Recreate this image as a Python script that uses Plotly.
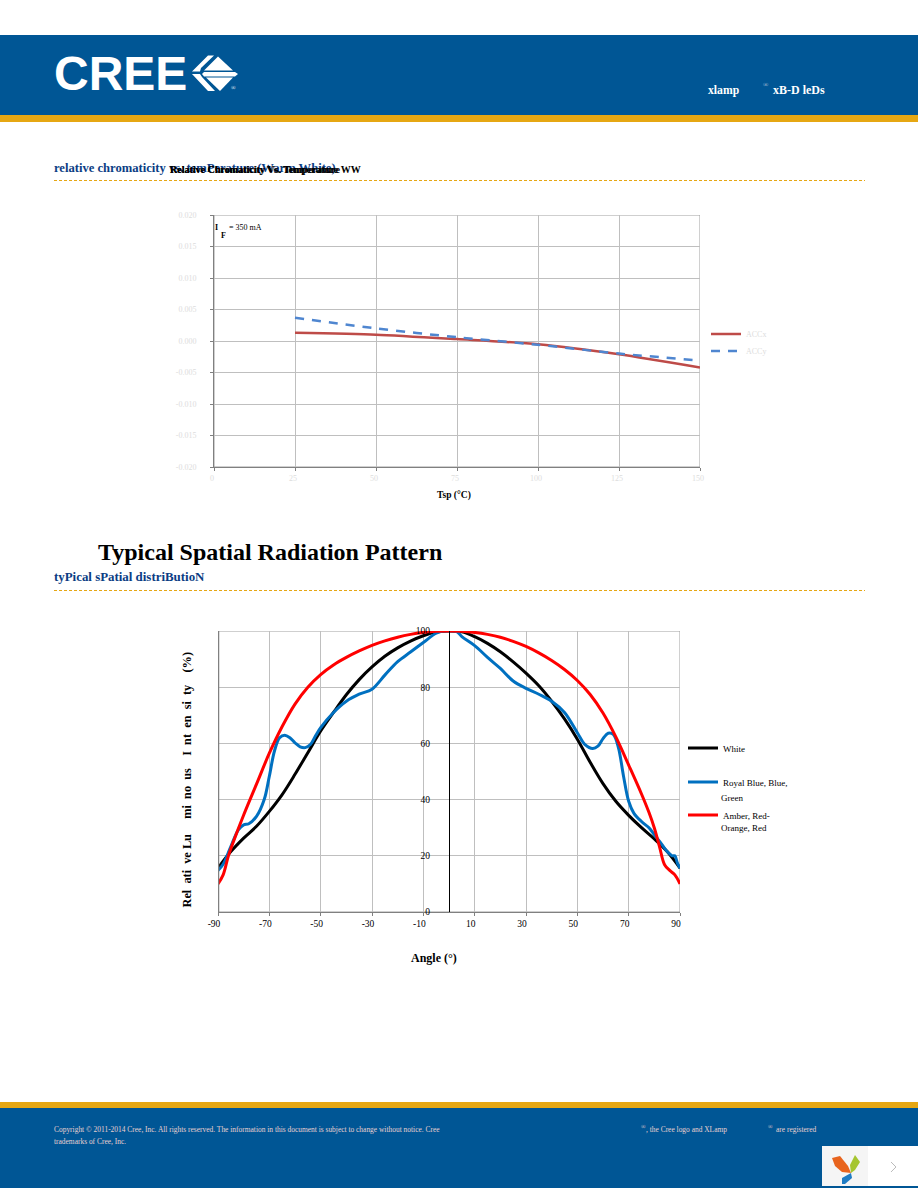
import plotly.graph_objects as go

W, H = 918, 1188
def fx(x): return x / W
def fy(y): return 1 - y / H

# ---------- data ----------
temp = [25, 50, 75, 100, 125, 150]
accx = [0.0013, 0.0010, 0.0003, -0.0005, -0.0021, -0.0042]
accy = [0.0037, 0.0020, 0.0006, -0.0006, -0.0020, -0.0031]
temp_ticks = [0, 25, 50, 75, 100, 125, 150]
chrom_ticks = [0.020, 0.015, 0.010, 0.005, 0.0, -0.005, -0.010, -0.015, -0.020]
chrom_labels = ["0.020", "0.015", "0.010", "0.005", "0.000", "-0.005", "-0.010", "-0.015", "-0.020"]

white_deg = [-90,-85,-80,-75,-70,-65,-60,-55,-50,-45,-40,-35,-30,-25,-20,-15,-10,-5,0,5,10,15,20,25,30,35,40,45,50,55,60,65,70,75,80,85,90]
white_val = [15.6,21.5,26.3,30.5,35.8,41.8,49,56.7,64.4,71,77.3,82.7,87.2,91,94,96.4,98.3,99.6,100,99.7,98,95.6,92.6,89,85,80.5,75,68.7,61.5,53.3,45.7,39.4,34.4,30,26,21.5,15.6]
blue_deg = [-90,-88,-85,-82,-80,-78,-75,-72,-70,-68,-66,-64,-62,-60,-58,-56,-54,-52,-50,-45,-40,-35,-30,-25,-20,-15,-10,-5,-2,0,3,5,10,15,20,25,30,35,40,45,50,53,56,58,60,62,64,66,68,70,72,75,78,80,83,85,87,88,89,90]
blue_val = [14.8,17,23.3,29.3,31,31.4,34,40,48.3,57.3,62,62.9,62,60.2,58.8,58.5,59.6,62.7,65.6,71,75,77.5,79.3,84.3,89.1,92.5,95.9,99.2,100,100,99.8,98,94.8,90.6,86.7,82.2,79.6,77.5,75,71,63.8,59.6,58.2,59,61.7,63.6,63.2,58.5,48.3,39.4,35.2,32.2,29.9,27.5,24,21.5,20,20,17.4,15.6]
red_deg = [-90,-88,-86,-84,-80,-75,-70,-65,-60,-55,-50,-45,-40,-35,-30,-25,-20,-15,-10,-5,0,5,10,15,20,25,30,35,40,45,50,55,60,65,70,75,78,80,82,84,86,88,90]
red_val = [10,13.2,19.8,25,34.5,45.5,56.5,66,74,80,84.5,87.9,90.6,92.9,94.9,96.5,97.8,98.8,99.5,99.9,100,99.9,99.5,98.8,97.8,96.3,94.5,92.2,89.5,86.3,82.4,77.4,70.8,62.3,52.3,42,35.2,29.9,23.3,16.8,14.8,13.2,10]
angle_ticks = [-90,-70,-50,-30,-10,10,30,50,70,90]
angle_labels = ["-90","-70","-50","-30","-10","10","30","50","70","90"]
pct_ticks = [0,20,40,60,80,100]

BLUE_BAND = "#005695"
GOLD = "#E6A713"
NAVY = "#0B3D84"
PALE = "#DDDDDD"
GRID = "#BFBFBF"
SERIF = "Liberation Serif"

fig = go.Figure()

# ---------- traces ----------
fig.add_trace(go.Scatter(x=temp, y=accx, name="ACCx", mode="lines", xaxis="x", yaxis="y", legend="legend",
                         line=dict(color="#BE4B48", width=2.5, shape="spline", smoothing=0.7)))
fig.add_trace(go.Scatter(x=temp, y=accy, name="ACCy", mode="lines", xaxis="x", yaxis="y", legend="legend2",
                         line=dict(color="#4F86D0", width=2.5, dash="9px,8px", shape="spline", smoothing=0.7)))
fig.add_trace(go.Scatter(x=white_deg, y=white_val, name="White", mode="lines", xaxis="x2", yaxis="y2", legend="legend3",
                         line=dict(color="#000000", width=3, shape="spline", smoothing=1)))
fig.add_trace(go.Scatter(x=blue_deg, y=blue_val, name="Royal Blue, Blue,", mode="lines", xaxis="x2", yaxis="y2", legend="legend4",
                         line=dict(color="#0070C0", width=3, shape="spline", smoothing=1)))
fig.add_trace(go.Scatter(x=red_deg, y=red_val, name="Amber, Red-", mode="lines", xaxis="x2", yaxis="y2", legend="legend5",
                         line=dict(color="#FF0000", width=3, shape="spline", smoothing=1)))

def leg(x, ymid, size, color):
    return dict(x=fx(x - 5), y=fy(ymid), xanchor="left", yanchor="middle", bgcolor="rgba(0,0,0,0)",
                font=dict(family=SERIF, size=size, color=color), borderwidth=0)

# ---------- shapes ----------
shapes = []
def rect(x0, y0, x1, y1, color):
    shapes.append(dict(type="rect", xref="paper", yref="paper", x0=fx(x0), x1=fx(x1), y0=fy(y0), y1=fy(y1),
                       fillcolor=color, line=dict(width=0), layer="below"))
def poly(pts, color):
    d = "M" + " L".join(f"{fx(a):.5f},{fy(b):.5f}" for a, b in pts) + " Z"
    shapes.append(dict(type="path", xref="paper", yref="paper", path=d, fillcolor=color, line=dict(width=0), layer="below"))
def dash(y):
    shapes.append(dict(type="line", xref="paper", yref="paper", x0=fx(54), x1=fx(865), y0=fy(y), y1=fy(y),
                       line=dict(color=GOLD, width=1, dash="3px,2px"), layer="below"))

rect(0, 35, W, 115, BLUE_BAND)
rect(0, 115, W, 122, GOLD)
rect(0, 1102, W, 1108, GOLD)
rect(0, 1108, W, H, BLUE_BAND)
dash(180.5); dash(590.5)
# logo mark
poly([(192,71.5),(208,55.5),(214,55.5),(201,68),(200,71.5)], "#FFFFFF")
poly([(192,74),(200,74),(202,77),(215,91),(208,91)], "#FFFFFF")
poly([(204,70.5),(218,56.5),(233,70.5)], "#FFFFFF")
poly([(204,72),(235,72),(238,74),(235,76.5),(204,76.5),(202,74)], "#FFFFFF")
poly([(206,77.5),(233,77.5),(220,91)], "#FFFFFF")
# corner widget
rect(822, 1146, 918, 1186, "#FFFFFF")
rect(822, 1146, 868, 1186, "#F5F5F5")
poly([(832,1158),(840,1156),(848,1166),(851,1173),(842,1172),(835,1166)], "#E8641E")
poly([(855,1155),(860,1162),(855,1170),(851,1173),(850,1165)], "#A5C52F")
poly([(851,1173),(852,1178),(845,1184),(842,1184),(842,1178)], "#1F7CC4")
shapes.append(dict(type="path", xref="paper", yref="paper", layer="below", line=dict(color="#BBBBBB", width=1),
                   path=f"M{fx(891):.5f},{fy(1162):.5f} L{fx(896):.5f},{fy(1167):.5f} L{fx(891):.5f},{fy(1172):.5f}"))

# ---------- text ----------
ann = []
def text(x, y, s, size, color="#000000", bold=False, anchor="left", angle=0, family=SERIF):
    ann.append(dict(xref="paper", yref="paper", x=fx(x), y=fy(y), text=f"<b>{s}</b>" if bold else s,
                    showarrow=False, xanchor=anchor, yanchor="middle", textangle=angle, borderpad=0, borderwidth=0,
                    font=dict(family=family, size=size, color=color)))

text(54, 73.5, "CREE", 48, "#FFFFFF", True, family="Liberation Sans")
text(231, 88, "®", 6, "#FFFFFF")
text(708, 90, "xlamp", 11.7, "#FFFFFF", True)
text(773, 90, "xB-D leDs", 12, "#FFFFFF", True)
text(763, 85, "®", 7, "#B8C4DC")
text(54, 167.5, "relative chromaticity vs. temPerature (Warm White)", 12.6, NAVY, True)
text(170, 169.5, "Relative Chromaticity Vs. Temperature", 10.1, "#000000", True)
text(170, 169.5, "Relative Chromaticity Vs. Temperature WW", 10, "#000000", True)
text(98, 552, "Typical Spatial Radiation Pattern", 24, "#000000", True)
text(54, 577, "tyPical sPatial distriButioN", 12.9, NAVY, True)
text(215, 227, "I", 8, "#000000", True)
text(221, 236, "F", 8, "#000000", True)
text(229, 227, "= 350 mA", 8, "#000000")
text(437, 495, "Tsp (°C)", 9.5, "#000000", True)
text(411, 958, "Angle (°)", 12, "#000000", True)
text(186, 779.5, "Rel &nbsp;ati &nbsp;ve Lu &nbsp; &nbsp; mi &nbsp;no &nbsp;us &nbsp; &nbsp;I &nbsp;nt &nbsp;en &nbsp;si &nbsp;ty &nbsp; &nbsp;(%)", 12.3, "#000000", True, anchor="center", angle=-90)
text(721, 798, "Green", 9, "#000000")
text(721, 828, "Orange, Red", 9, "#000000")
FOOT = "#E8D0D0"
text(54, 1129, "Copyright © 2011-2014 Cree, Inc. All rights reserved. The information in this document is subject to change without notice. Cree", 7.45, FOOT)
text(54, 1141, "trademarks of Cree, Inc.", 7.45, FOOT)
text(641, 1127, "®", 6, FOOT)
text(646, 1129, ", the Cree logo and XLamp", 7.45, FOOT)
text(768, 1127, "®", 6, FOOT)
text(776, 1129, "are registered", 7.45, FOOT)

# ---------- layout ----------
fig.update_layout(
    width=W, height=H, autosize=False, margin=dict(l=0, r=0, t=0, b=0, pad=0, autoexpand=False),
    paper_bgcolor="#FFFFFF", plot_bgcolor="rgba(0,0,0,0)", showlegend=True,
    shapes=shapes, annotations=ann,
    xaxis=dict(domain=[fx(214), fx(700)], range=[0, 150], tickmode="array", tickvals=temp_ticks,
               ticks="outside", ticklen=3, tickcolor="#808080", showgrid=True, gridcolor=GRID, gridwidth=1,
               showline=True, linecolor="#808080", linewidth=1, zeroline=False, ticklabelshift=-2,
               tickfont=dict(family=SERIF, size=8, color=PALE), anchor="y", mirror=False),
    yaxis=dict(domain=[fy(467), fy(215)], range=[-0.020, 0.020], tickmode="array", tickvals=chrom_ticks,
               ticktext=chrom_labels, ticks="outside", ticklen=3, tickcolor="#808080", showgrid=True,
               gridcolor=GRID, showline=True, linecolor="#808080", linewidth=1, zeroline=False,
               ticklabelstandoff=12, tickfont=dict(family=SERIF, size=8, color=PALE), anchor="x"),
    xaxis2=dict(domain=[fx(218), fx(680)], range=[-90, 90], tickmode="array", tickvals=angle_ticks, ticktext=angle_labels,
                ticks="outside", ticklen=3, tickcolor="#808080", showgrid=True, gridcolor=GRID,
                showline=True, linecolor="#808080", linewidth=1, zeroline=False, ticklabelshift=-4,
                tickfont=dict(family=SERIF, size=9.5, color="#000000"), anchor="y2"),
    yaxis2=dict(domain=[fy(912), fy(631)], range=[0, 100], tickmode="array", tickvals=pct_ticks,
                ticks="", showgrid=True, gridcolor=GRID, showline=True, linecolor="#000000", linewidth=1,
                zeroline=False, anchor="free", position=fx(449),
                ticklabelstandoff=17, tickfont=dict(family=SERIF, size=9.5, color="#000000")),
    legend=leg(711, 334, 8, PALE),
    legend2=leg(711, 351, 8, PALE),
    legend3=leg(688, 748, 9, "#000000"),
    legend4=leg(688, 782, 9, "#000000"),
    legend5=leg(688, 815, 9, "#000000"),
)

# plot frames (outer borders)
for xr, yr, x0, x1, y0, y1 in [("x", "y", 0, 150, -0.02, 0.02), ("x2", "y2", -90, 90, 0, 100)]:
    fig.add_shape(type="rect", xref=xr, yref=yr, x0=x0, x1=x1, y0=y0, y1=y1,
                  line=dict(color="#A0A0A0", width=1), layer="below")
fig.add_shape(type="line", xref="x2", yref="y2", x0=-90, x1=-90, y0=0, y1=100,
              line=dict(color="#808080", width=2.5), layer="above")

fig.write_html("out.html", config={"displayModeBar": False},
               post_script="document.body.style.margin='0';document.body.style.overflow='hidden';")
